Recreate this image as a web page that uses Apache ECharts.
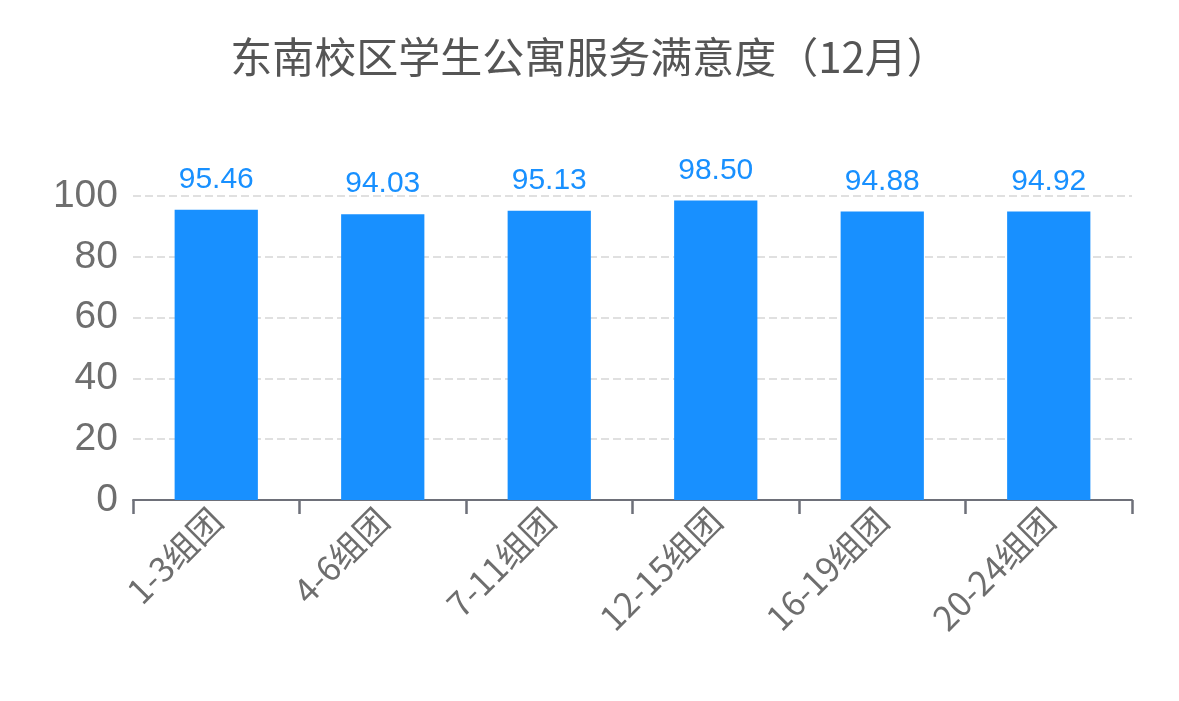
<!DOCTYPE html>
<html><head><meta charset="utf-8">
<script src="https://cdn.jsdelivr.net/npm/echarts@6/dist/echarts.min.js"></script>
<style>html,body{margin:0;padding:0;background:#fff}#c{width:1179px;height:701px}</style>
</head><body><div id="c"></div>
<script>
const titleText = '东南校区学生公寓服务满意度（12月）';
const categories = ['1-3组团','4-6组团','7-11组团','12-15组团','16-19组团','20-24组团'];
const values = [95.46, 94.03, 95.13, 98.50, 94.88, 94.92];
const yTicks = [0, 20, 40, 60, 80, 100];

const chart = echarts.init(document.getElementById('c'));
chart.setOption({
  animation: false,
  title: {
    text: titleText, left: 'center', top: 31,
    textStyle: { fontSize: 42, fontWeight: 'normal', color: '#555', fontFamily: 'Noto Sans CJK SC' }
  },
  grid: { left: 133, right: 47, top: 196, bottom: 201, containLabel: false },
  xAxis: {
    type: 'category', data: categories,
    axisLine: { show: true, lineStyle: { color: '#6e7079', width: 2 } },
    axisTick: { show: true, length: 14, alignWithLabel: false, lineStyle: { color: '#6e7079', width: 2.5 } },
    axisLabel: { show: true, rotate: 45, fontSize: 34, color: '#6e6e6e', margin: 14, interval: 0, fontFamily: 'Noto Sans CJK SC' }
  },
  yAxis: {
    type: 'value', min: yTicks[0], max: yTicks[yTicks.length-1], interval: 20,
    axisLine: { show: false }, axisTick: { show: false },
    axisLabel: { fontSize: 39, color: '#6e6e6e', margin: 15, fontFamily: 'Liberation Sans, Arial, sans-serif' },
    splitLine: { lineStyle: { type: 'dashed', color: '#e0e0e0', width: 2 } }
  },
  series: [{
    type: 'bar', data: values, barWidth: '50%',
    itemStyle: { color: '#1890ff' },
    label: { show: true, position: 'top', distance: 15, fontSize: 30, color: '#1890ff',
      fontFamily: 'Liberation Sans, Arial, sans-serif',
      formatter: p => p.value.toFixed(2) }
  }]
});
</script></body></html>
